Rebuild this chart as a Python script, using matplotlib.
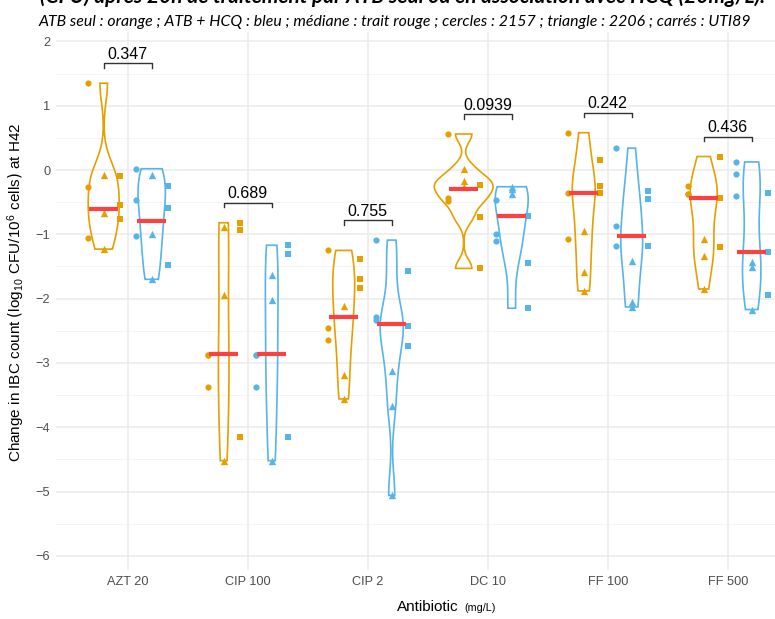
import numpy as np
import matplotlib.pyplot as plt

plt.rcParams['font.family'] = ['Liberation Sans', 'DejaVu Sans']

antibiotics = ["AZT 20", "CIP 100", "CIP 2", "DC 10", "FF 100", "FF 500"]
pvalues = ["0.347", "0.689", "0.755", "0.0939", "0.242", "0.436"]

# ATB seul (orange) : circles = 2157, triangles = 2206, squares = UTI89
atb_2157 = [[1.35, -0.26, -1.05], [-2.87, -2.87, -3.37], [-1.25, -2.46, -2.64],
            [0.56, -0.43, -0.48], [0.58, -0.36, -1.07], [-0.25, -0.37, -0.37]]
atb_2206 = [[-0.07, -0.67, -1.23], [-0.89, -1.94, -4.52], [-2.11, -3.19, -3.56],
            [0.01, -0.17, -0.26], [-0.95, -1.59, -1.88], [-1.07, -1.34, -1.85]]
atb_uti89 = [[-0.09, -0.54, -0.76], [-0.82, -0.94, -4.15], [-1.39, -1.69, -1.84],
             [-0.23, -0.73, -1.53], [0.16, -0.25, -0.35], [0.21, -0.43, -1.20]]

# ATB + HCQ (blue)
hcq_2157 = [[0.02, -0.47, -1.03], [-2.87, -2.87, -3.37], [-1.09, -2.29, -2.33],
            [-0.46, -0.99, -1.10], [0.34, -0.87, -1.18], [0.125, -0.06, -0.40]]
hcq_2206 = [[-0.07, -0.99, -1.70], [-1.63, -2.02, -4.52], [-3.12, -3.67, -5.06],
            [-0.26, -0.29, -0.375], [-1.41, -2.05, -2.13], [-1.43, -1.51, -2.17]]
hcq_uti89 = [[-0.25, -0.59, -1.47], [-1.17, -1.31, -4.15], [-1.57, -2.43, -2.74],
             [-0.71, -1.45, -2.15], [-0.32, -0.45, -1.18], [-0.35, -1.28, -1.94]]

atb_median = [-0.61, -2.86, -2.29, -0.30, -0.36, -0.43]
hcq_median = [-0.79, -2.86, -2.40, -0.71, -1.03, -1.28]

orange = "#E69F00"
blue = "#56B4E9"


def nrd0(x):
    sd = np.std(x, ddof=1)
    q75, q25 = np.percentile(x, [75, 25])
    lo = min(sd, (q75 - q25) / 1.34)
    if lo == 0:
        lo = sd
    return 0.9 * lo * len(x) ** -0.2


def density(x):
    bw = nrd0(x)
    ys = np.linspace(x.min(), x.max(), 512)
    d = np.exp(-0.5 * ((ys[:, None] - x[None, :]) / bw) ** 2).sum(1)
    return ys, d / (len(x) * bw * np.sqrt(2 * np.pi))


groups = [
    (-0.2, orange, atb_2157, atb_2206, atb_uti89, atb_median),
    (0.2, blue, hcq_2157, hcq_2206, hcq_uti89, hcq_median),
]

dens = {}
for off, col, c, t, s, med in groups:
    for i in range(len(antibiotics)):
        vals = np.array(c[i] + t[i] + s[i])
        dens[(off, i)] = density(vals)
dmax = max(d.max() for _, d in dens.values())

fig = plt.figure(figsize=(7.75, 6.19), dpi=100)
ax = fig.add_axes([55.7 / 775, 49 / 619, 719.3 / 775, 538 / 619])

for off, col, c, t, s, med in groups:
    for i in range(len(antibiotics)):
        xc = i + 1 + off
        ys, d = dens[(off, i)]
        half = d / dmax * 0.245
        ax.fill(np.concatenate([xc - half, (xc + half)[::-1]]),
                np.concatenate([ys, ys[::-1]]),
                facecolor="none", edgecolor=col, lw=1.2, zorder=2)
        ax.scatter([xc - 0.13] * len(c[i]), c[i], s=20, marker="o", color=col, lw=0, zorder=3)
        ax.scatter([xc] * len(t[i]), t[i], s=28, marker="^", color=col, lw=0, zorder=3)
        ax.scatter([xc + 0.135] * len(s[i]), s[i], s=22, marker="s", color=col, lw=0, zorder=3)
        ax.plot([xc - 0.12, xc + 0.12], [med[i], med[i]], color="#FF4040", lw=3, zorder=4,
                solid_capstyle="butt")

for i, p in enumerate(pvalues):
    top = max(atb_2157[i] + atb_2206[i] + atb_uti89[i] + hcq_2157[i] + hcq_2206[i] + hcq_uti89[i])
    yb = top + 0.31
    x1, x2 = i + 1 - 0.2, i + 1 + 0.2
    ax.plot([x1, x1, x2, x2], [yb - 0.07, yb, yb, yb - 0.07], color="#333333", lw=1.0, zorder=4)
    ax.text(i + 1, yb + 0.07, p, ha="center", va="baseline", fontsize=11.5, color="black")

ax.set_xlim(0.4, 0.4 + 719.3 / 120)
ax.set_ylim(-6.22, 2.146)
ax.set_xticks(range(1, len(antibiotics) + 1))
ax.set_xticklabels(antibiotics)
ax.set_yticks(range(-6, 3))
ax.set_yticks(np.arange(-6, 2.5, 0.5), minor=True)
ax.tick_params(axis="both", length=0, colors="#4D4D4D", labelsize=9.2, pad=4)
ax.tick_params(axis="y", which="minor", length=0)
ax.grid(True, which="major", color="#EBEBEB", lw=1.1, zorder=0)
ax.grid(True, which="minor", axis="y", color="#F2F2F2", lw=0.6, zorder=0)
ax.set_axisbelow(True)
for sp in ax.spines.values():
    sp.set_visible(False)

ax.set_ylabel(r"Change in IBC count $\left(\mathregular{log_{10}\ CFU/10^6\ cells}\right)$ at H42",
              fontsize=11)
ax.yaxis.set_label_coords(-0.040, 0.517)
fig.text(397 / 775, 1 - 611 / 619, "Antibiotic", fontsize=11, ha="left", va="baseline")
fig.text(464 / 775, 1 - 611 / 619, "(mg/L)", fontsize=7.8, ha="left", va="baseline")

fig.text(403 / 775, 1 - 3 / 619,
         "(CFU) après 20h de traitement par ATB seul ou en association avec HCQ (20mg/L).",
         family=["Lato", "DejaVu Sans"], fontweight="bold", style="italic", fontsize=15,
         ha="center", va="baseline")
fig.text(395 / 775, 1 - 26 / 619,
         "ATB seul : orange ; ATB + HCQ : bleu ; médiane : trait rouge ; cercles : 2157 ; "
         "triangle : 2206 ; carrés : UTI89",
         family=["Lato", "DejaVu Sans"], style="italic", fontsize=11.4, ha="center", va="baseline")

fig.savefig("out.png", dpi=100)
